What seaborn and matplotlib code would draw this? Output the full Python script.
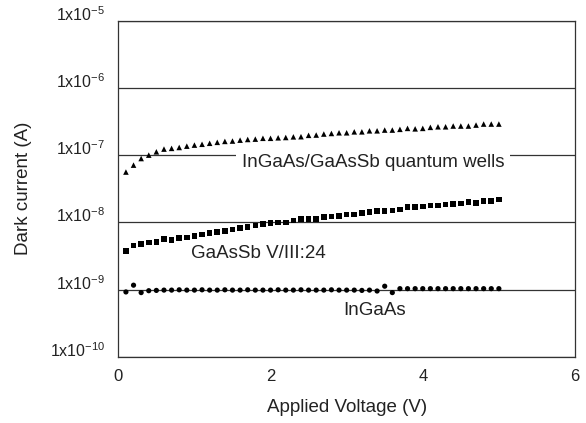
import matplotlib
matplotlib.use("Agg")
import matplotlib.pyplot as plt
import seaborn as sns
import numpy as np
import pandas as pd

# ---------------- data ----------------
voltage = [round(0.1 * i, 1) for i in range(1, 51)]

qw_current = [5.6e-8, 7.1e-8, 8.9e-8, 1.0e-7, 1.12e-7, 1.23e-7, 1.26e-7, 1.30e-7, 1.36e-7, 1.41e-7,
              1.45e-7, 1.50e-7, 1.55e-7, 1.60e-7, 1.62e-7, 1.67e-7, 1.71e-7, 1.73e-7, 1.78e-7, 1.78e-7,
              1.81e-7, 1.83e-7, 1.87e-7, 1.88e-7, 1.97e-7, 1.99e-7, 2.06e-7, 2.10e-7, 2.15e-7, 2.15e-7,
              2.22e-7, 2.22e-7, 2.30e-7, 2.30e-7, 2.36e-7, 2.36e-7, 2.42e-7, 2.50e-7, 2.46e-7, 2.50e-7,
              2.59e-7, 2.64e-7, 2.64e-7, 2.71e-7, 2.71e-7, 2.71e-7, 2.80e-7, 2.90e-7, 2.90e-7, 2.90e-7]

gaassb_current = [3.73e-9, 4.5e-9, 4.8e-9, 5.0e-9, 5.1e-9, 5.6e-9, 5.5e-9, 5.8e-9, 5.9e-9, 6.2e-9,
                  6.6e-9, 6.9e-9, 7.2e-9, 7.4e-9, 7.8e-9, 8.2e-9, 8.5e-9, 9.0e-9, 9.5e-9, 9.8e-9,
                  9.9e-9, 9.9e-9, 1.07e-8, 1.11e-8, 1.13e-8, 1.12e-8, 1.20e-8, 1.23e-8, 1.24e-8, 1.30e-8,
                  1.30e-8, 1.38e-8, 1.43e-8, 1.46e-8, 1.46e-8, 1.51e-8, 1.55e-8, 1.69e-8, 1.69e-8, 1.73e-8,
                  1.77e-8, 1.79e-8, 1.84e-8, 1.86e-8, 1.90e-8, 2.01e-8, 1.94e-8, 2.08e-8, 2.08e-8, 2.18e-8]

ingaas_current = [9.2e-10, 1.16e-9, 9.0e-10, 9.6e-10, 9.7e-10, 9.8e-10, 9.8e-10, 9.9e-10, 9.8e-10, 9.8e-10,
                  9.9e-10, 9.8e-10, 9.8e-10, 9.9e-10, 9.8e-10, 9.8e-10, 9.9e-10, 9.8e-10, 9.8e-10, 9.8e-10,
                  9.9e-10, 9.8e-10, 9.8e-10, 9.9e-10, 9.8e-10, 9.8e-10, 9.8e-10, 9.9e-10, 9.8e-10, 9.8e-10,
                  9.8e-10, 9.7e-10, 9.8e-10, 9.5e-10, 1.12e-9, 9.0e-10, 1.03e-9, 1.03e-9, 1.03e-9, 1.03e-9,
                  1.03e-9, 1.03e-9, 1.03e-9, 1.03e-9, 1.03e-9, 1.03e-9, 1.03e-9, 1.03e-9, 1.03e-9, 1.03e-9]

series_labels = ["InGaAs/GaAsSb quantum wells", "GaAsSb V/III:24", "InGaAs"]
ytick_values = [1e-10, 1e-9, 1e-8, 1e-7, 1e-6, 1e-5]
ytick_labels = [r"$\mathregular{1x10^{-10}}$", r"$\mathregular{1x10^{-9}}$", r"$\mathregular{1x10^{-8}}$",
                r"$\mathregular{1x10^{-7}}$", r"$\mathregular{1x10^{-6}}$", r"$\mathregular{1x10^{-5}}$"]
xtick_values = [0, 2, 4, 6]
xtick_labels = ["0", "2", "4", "6"]

# ---------------- style ----------------
sns.set_style("white")
plt.rcParams["font.family"] = ["Liberation Sans", "DejaVu Sans"]
plt.rcParams["mathtext.fontset"] = "custom"
plt.rcParams["mathtext.rm"] = "Liberation Sans"
plt.rcParams["mathtext.default"] = "regular"

line_col = "#333333"
txt_col = "#222222"

fig = plt.figure(figsize=(5.86, 4.23), dpi=100)
ax = fig.add_axes([0.2019, 0.1567, 0.9812 - 0.2019, 0.951 - 0.1567])

df = pd.DataFrame({"V": voltage, "qw": qw_current, "gs": gaassb_current, "ig": ingaas_current})

sns.scatterplot(data=df, x="V", y="qw", marker="^", s=16, color="black", edgecolor="none", ax=ax, zorder=3)
sns.scatterplot(data=df, x="V", y="gs", marker="s", s=16, color="black", edgecolor="none", ax=ax, zorder=3)
sns.scatterplot(data=df, x="V", y="ig", marker="o", s=14, color="black", edgecolor="none", ax=ax, zorder=3)

ax.set_yscale("log")
ax.set_xlim(0, 6)
ax.set_ylim(1e-10, 1e-5)
ax.yaxis.set_minor_locator(matplotlib.ticker.NullLocator())
ax.set_yticks(ytick_values, ytick_labels)
ax.set_xticks(xtick_values, xtick_labels)
for lab in ax.get_yticklabels():
    lab.set_verticalalignment("baseline")

ax.tick_params(axis="y", length=0, pad=9.4, labelsize=11.5, colors=txt_col)
ax.tick_params(axis="x", direction="in", length=2.5, width=0.8, pad=9.0, labelsize=12,
               color=line_col, labelcolor=txt_col)

ax.yaxis.grid(True, color=line_col, linewidth=0.9, zorder=0.5)
ax.xaxis.grid(False)
ax.set_axisbelow(True)

for sp in ax.spines.values():
    sp.set_color(line_col)
    sp.set_linewidth(0.9)

ax.set_xlabel("Applied Voltage (V)", fontsize=13.5, color=txt_col)
ax.set_ylabel("Dark current (A)", fontsize=13.5, color=txt_col)
ax.xaxis.set_label_coords(0.5, -0.126)
ax.yaxis.set_label_coords(-0.189, 0.5)

ax.text(3.35, 6.7e-8, series_labels[0], ha="center", va="baseline", fontsize=13.5, color=txt_col,
        zorder=2.5, bbox=dict(boxstyle="square,pad=0.3", facecolor="white", edgecolor="none"))
ax.text(0.951, 2.9e-9, series_labels[1], ha="left", va="baseline", fontsize=13.5, color=txt_col)
ax.text(2.953, 4.24e-10, series_labels[2], ha="left", va="baseline", fontsize=13.5, color=txt_col)

fig.savefig("out.png", dpi=100)
